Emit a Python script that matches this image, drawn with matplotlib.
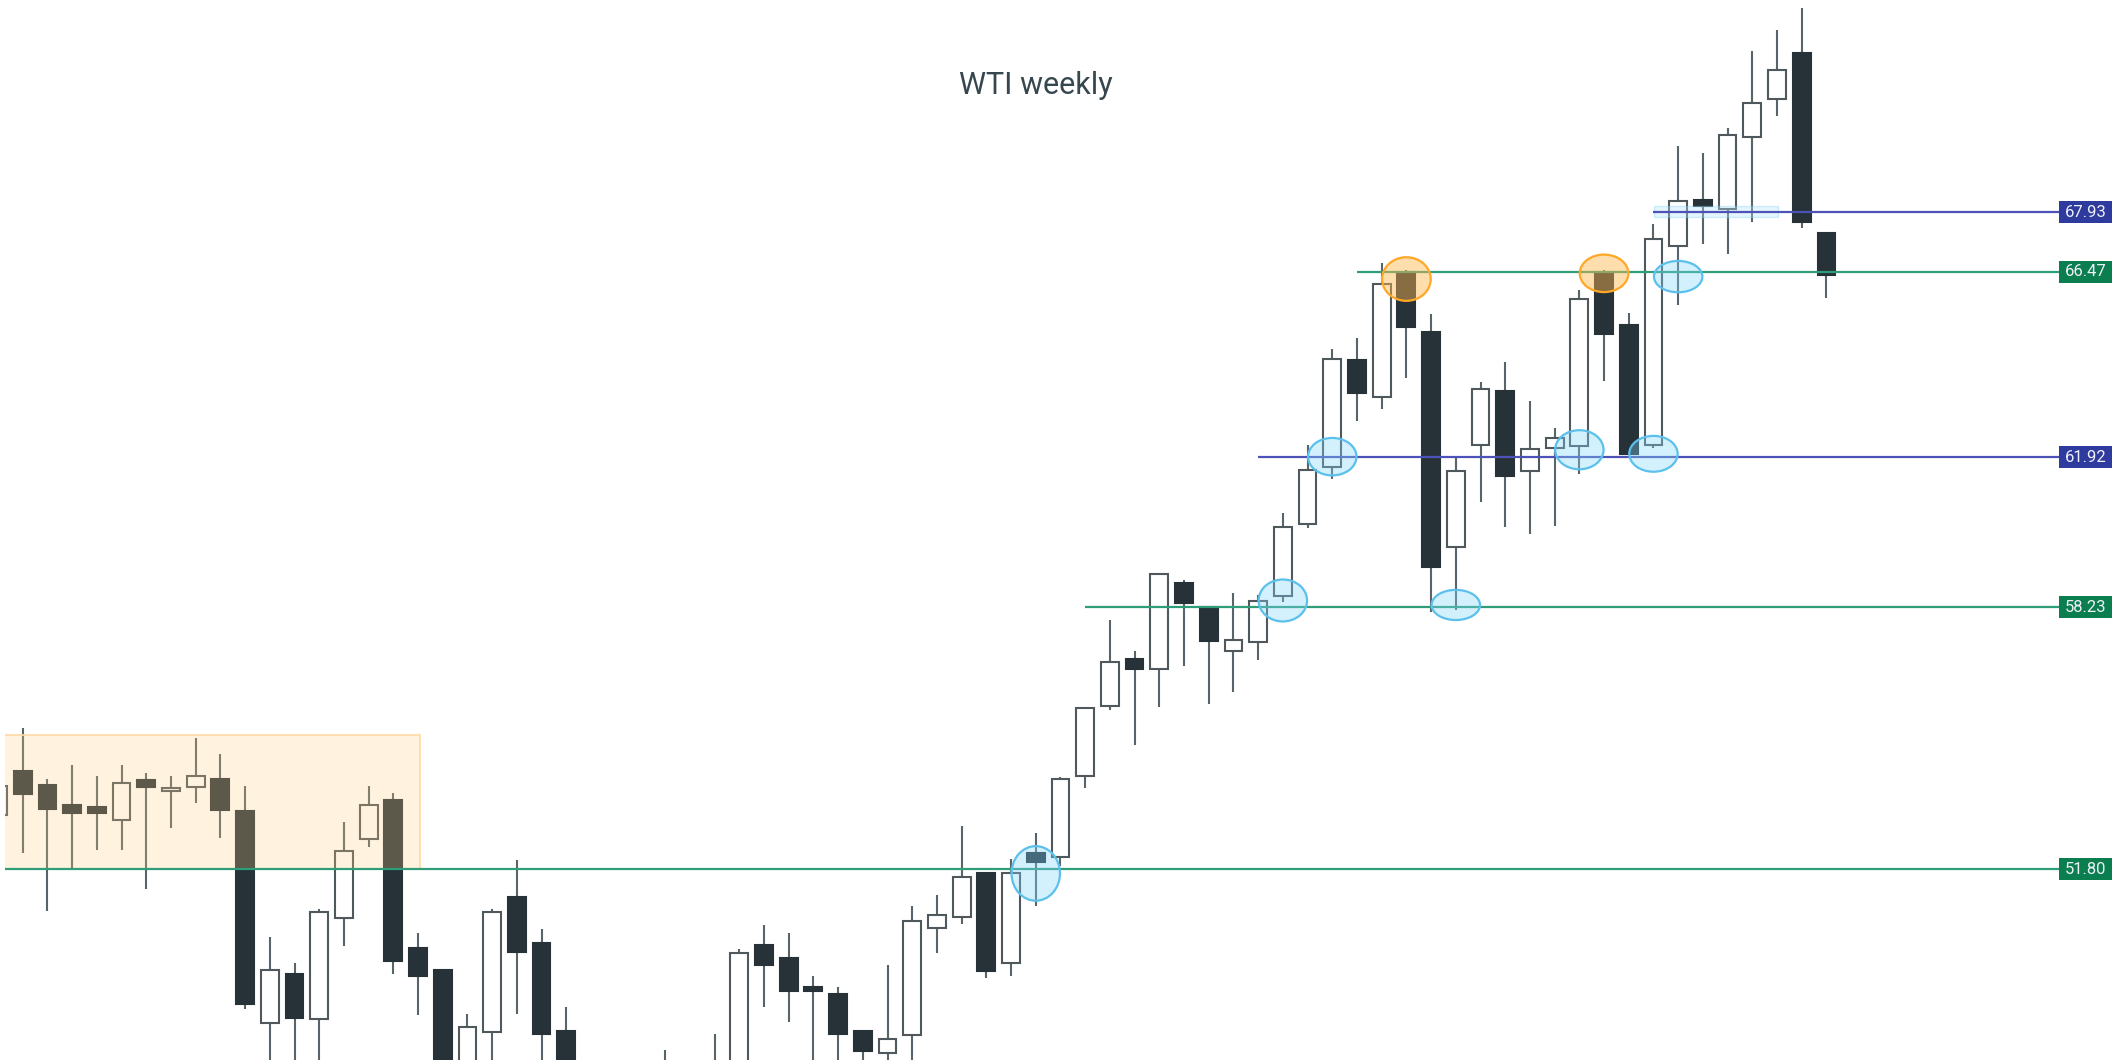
import matplotlib
matplotlib.use("Agg")
import matplotlib.pyplot as plt
from matplotlib.patches import Ellipse, Rectangle

plt.rcParams['font.family'] = ['Roboto', 'DejaVu Sans']

# weekly WTI candles (values below ~47.1 are off-screen guesses)
opens = [53.14, 54.21, 53.88, 53.37, 53.34, 53.00, 53.99, 53.72, 53.82, 54.02,
         53.23, 48.03, 49.22, 48.13, 50.60, 52.54, 53.49, 49.86, 49.33, 46.60,
         47.81, 51.12, 49.98, 47.83, 46.20, 45.30, 44.00, 42.90, 45.90, 44.60,
         46.50, 49.94, 49.62, 48.91, 48.75, 47.82, 47.30, 47.74, 50.35, 50.64,
         51.70, 49.50, 52.20, 52.11, 54.08, 55.81, 56.96, 56.73, 58.82, 58.25,
         57.16, 57.38, 58.52, 60.28, 61.68, 64.30, 63.40, 66.47, 64.98, 59.71,
         62.22, 63.54, 61.58, 62.14, 62.18, 66.47, 65.16, 62.22, 67.09, 68.23,
         68.02, 69.78, 70.71, 71.83, 67.43]
highs = [53.92, 55.28, 54.02, 54.35, 54.09, 54.35, 54.17, 54.09, 55.03, 54.63,
         53.84, 50.15, 49.51, 50.83, 52.95, 53.85, 53.67, 50.23, 49.35, 48.26,
         50.83, 52.02, 50.33, 48.43, 46.80, 45.90, 44.70, 47.37, 46.60, 47.75,
         49.84, 50.44, 50.23, 49.18, 48.91, 47.84, 49.44, 50.91, 51.16, 52.87,
         51.72, 52.06, 52.70, 54.06, 55.78, 57.92, 57.17, 59.08, 58.90, 58.26,
         58.58, 58.54, 60.54, 62.22, 64.57, 64.85, 66.68, 66.50, 65.42, 61.89,
         63.77, 64.26, 63.30, 62.63, 66.02, 66.50, 65.45, 67.64, 69.56, 69.39,
         70.01, 71.90, 72.41, 72.94, 67.45]
lows = [53.09, 52.21, 50.78, 51.80, 52.28, 52.28, 51.32, 52.82, 53.43, 52.57,
        48.37, 46.90, 46.80, 46.90, 49.92, 52.35, 49.23, 48.23, 45.90, 46.20,
        46.90, 48.24, 46.90, 45.80, 44.90, 43.60, 42.10, 42.60, 44.00, 44.20,
        46.20, 48.42, 48.06, 46.90, 46.90, 46.90, 46.90, 46.90, 49.74, 50.46,
        49.13, 49.17, 50.91, 51.88, 53.79, 55.71, 54.85, 55.79, 56.79, 55.86,
        56.15, 56.94, 58.37, 60.17, 61.38, 62.81, 63.10, 63.86, 58.12, 58.17,
        60.81, 60.21, 60.03, 60.23, 61.50, 63.79, 61.98, 62.14, 65.65, 67.15,
        66.90, 67.68, 70.30, 67.54, 65.83]
closes = [53.85, 53.64, 53.28, 53.18, 53.18, 53.91, 53.82, 53.80, 54.09, 53.25,
          48.49, 49.32, 48.16, 50.76, 52.26, 53.37, 49.55, 49.17, 46.40, 47.93,
          50.76, 49.77, 47.77, 46.20, 45.30, 44.00, 42.90, 45.90, 44.60, 46.50,
          49.75, 49.45, 48.82, 48.82, 47.76, 47.33, 47.64, 50.54, 50.68, 51.61,
          49.31, 51.70, 51.97, 54.02, 55.77, 56.88, 56.73, 59.04, 58.34, 57.41,
          57.42, 58.39, 60.21, 61.60, 64.33, 63.50, 66.17, 65.12, 59.21, 61.58,
          63.59, 61.46, 62.11, 62.40, 65.80, 64.94, 62.00, 67.27, 68.21, 68.09,
          69.82, 70.61, 71.43, 67.70, 66.40]

# horizontal levels: price, colour, candle where the line starts
levels = [67.93, 66.47, 61.92, 58.23, 51.80]
level_kind = ['blue', 'green', 'blue', 'green', 'green']
level_start = [67, 55, 51, 44, 0]

# marked touches: candle, price, height (price units)
blue_marks = [(42, 51.70, 1.34), (52, 58.40, 1.03), (59, 58.29, 0.74),
              (54, 61.93, 0.92), (64, 62.10, 0.96), (67, 62.00, 0.88),
              (68, 66.35, 0.77)]
orange_marks = [(57, 66.29, 1.07), (65, 66.43, 0.92)]

# range box of the first weeks
box_end = 17.08
box_low, box_high = 51.80, 55.10

line_col = {'green': '#2e9d78', 'blue': '#4d53b6'}
tag_col = {'green': '#0a7e4f', 'blue': '#2f3a9e'}

fig = plt.figure(figsize=(21.17, 10.6), dpi=100)
ax = fig.add_axes([5 / 2117, 0, 2112 / 2117, 1])
ax.set_xlim(0.283, 85.76)
ax.set_ylim(47.12, 73.14)
ax.axis('off')

x = list(range(len(opens)))
dark = '#263238'
wick = '#59646a'
w = 0.72

ax.vlines(x, lows, highs, color=wick, lw=1.5, zorder=2)
for i in x:
    o, c = opens[i], closes[i]
    bottom = min(o, c)
    h = max(abs(c - o), 0.06)
    if c >= o:
        ax.bar(i, h, w, bottom=bottom, facecolor='white', edgecolor='#4e585d', lw=1.5, zorder=3)
    else:
        ax.bar(i, h, w, bottom=bottom, facecolor=dark, edgecolor=dark, lw=1.5, zorder=3)

# orange range box
ax.add_patch(Rectangle((0, box_low), box_end, box_high - box_low,
                       facecolor='#ffcc80', alpha=0.25, edgecolor='none', zorder=4))
ax.add_patch(Rectangle((0, box_low), box_end, box_high - box_low,
                       facecolor='none', edgecolor='#ffd9a6', lw=1.2, zorder=4))

# small band around 67.93
ax.add_patch(Rectangle((67.02, 67.81), 5.02, 0.28, facecolor='#b3e5fc', alpha=0.35,
                       edgecolor='#81d4fa', lw=1.0, zorder=4))

label_x = 83.42
label_w = 2.14
for lvl, kind, start in zip(levels, level_kind, level_start):
    ax.hlines(lvl, start, label_x, color=line_col[kind], lw=1.6, zorder=5)
    ax.add_patch(Rectangle((label_x, lvl - 0.27), label_w, 0.54,
                           facecolor=tag_col[kind], edgecolor='none', zorder=7))
    ax.text(label_x + label_w / 2, lvl, f'{lvl:.2f}', color='#eef0f8', fontsize=12,
            ha='center', va='center', zorder=8)

for cx, cy, hh in blue_marks:
    ax.add_patch(Ellipse((cx, cy), 1.96, hh, facecolor='#81d4fa', alpha=0.35,
                         edgecolor='none', zorder=6))
    ax.add_patch(Ellipse((cx, cy), 1.96, hh, facecolor='none',
                         edgecolor='#5bc0ec', lw=1.6, zorder=6))
for cx, cy, hh in orange_marks:
    ax.add_patch(Ellipse((cx, cy), 1.97, hh, facecolor='#ffb74d', alpha=0.45,
                         edgecolor='none', zorder=6))
    ax.add_patch(Ellipse((cx, cy), 1.97, hh, facecolor='none',
                         edgecolor='#ffa726', lw=1.6, zorder=6))

fig.text(1036 / 2117, 1 - 86 / 1060, 'WTI weekly', fontsize=22, color='#37474f',
         ha='center', va='center')

plt.savefig('out.png', dpi=100)
